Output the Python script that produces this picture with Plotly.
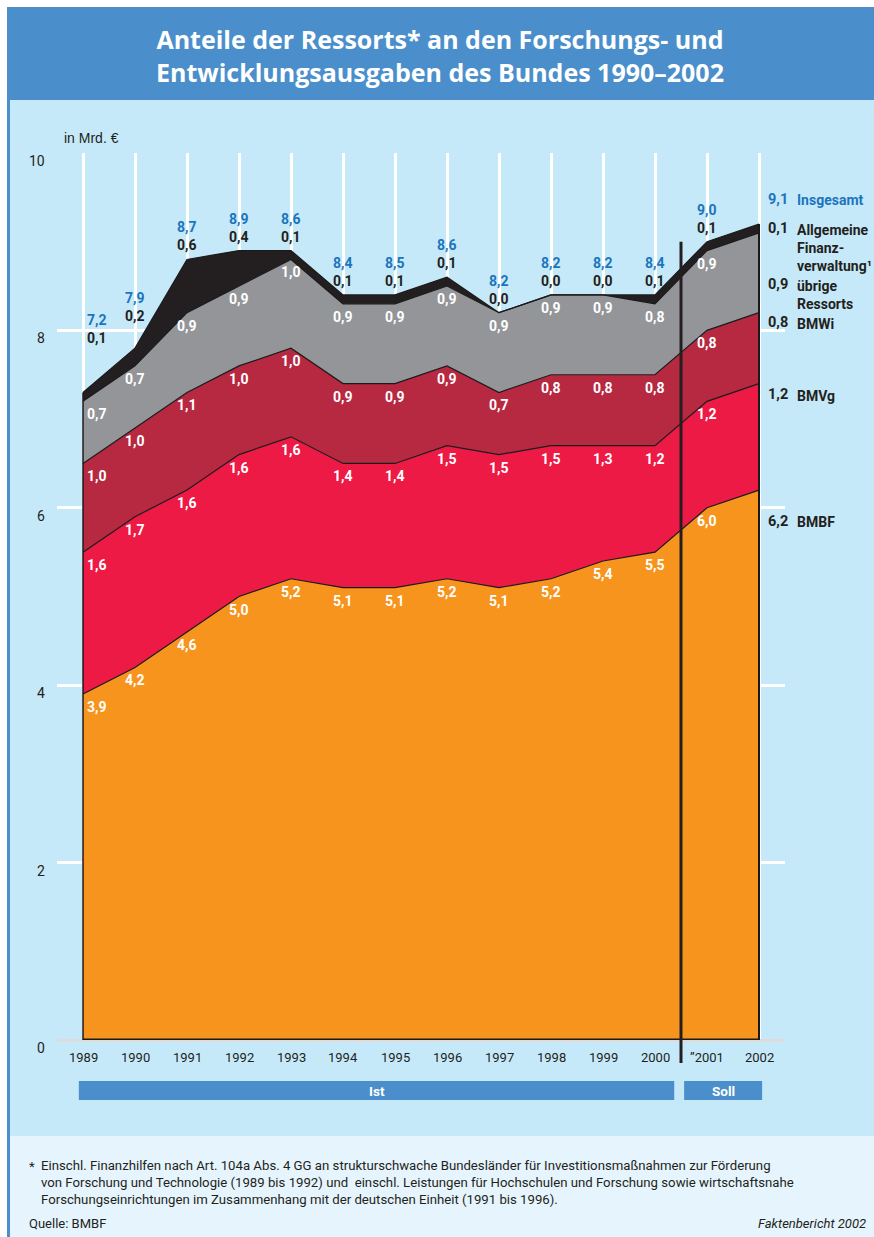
import plotly.graph_objects as go

# ---------------- data ----------------
years = [1989, 1990, 1991, 1992, 1993, 1994, 1995, 1996, 1997, 1998, 1999, 2000, 2001, 2002]
year_labels = ["1989", "1990", "1991", "1992", "1993", "1994", "1995", "1996",
               "1997", "1998", "1999", "2000", "\u201d2001", "2002"]
bmbf = [3.9, 4.2, 4.6, 5.0, 5.2, 5.1, 5.1, 5.2, 5.1, 5.2, 5.4, 5.5, 6.0, 6.2]
bmvg = [1.6, 1.7, 1.6, 1.6, 1.6, 1.4, 1.4, 1.5, 1.5, 1.5, 1.3, 1.2, 1.2, 1.2]
bmwi = [1.0, 1.0, 1.1, 1.0, 1.0, 0.9, 0.9, 0.9, 0.7, 0.8, 0.8, 0.8, 0.8, 0.8]
uebrige = [0.7, 0.7, 0.9, 0.9, 1.0, 0.9, 0.9, 0.9, 0.9, 0.9, 0.9, 0.8, 0.9, 0.9]
allgemeine = [0.1, 0.2, 0.6, 0.4, 0.1, 0.1, 0.1, 0.1, 0.0, 0.0, 0.0, 0.1, 0.1, 0.1]
insgesamt = [7.2, 7.9, 8.7, 8.9, 8.6, 8.4, 8.5, 8.6, 8.2, 8.2, 8.2, 8.4, 9.0, 9.1]
y_ticks = [0, 2, 4, 6, 8, 10]
series_names = ["BMBF", "BMVg", "BMWi", "übrige<br>Ressorts",
                "Allgemeine<br>Finanz-<br>verwaltung\u00b9"]
ist_label, soll_label = "Ist", "Soll"
first_soll_year = 2001

# ---------------- styles ----------------
W, H = 874, 1237
COND = "Roboto, Liberation Sans, sans-serif"
colors = ["#f7941d", "#ed1a46", "#b72841", "#939598", "#231f20"]
BLUE_TXT = "#1b75bc"
DARK = "#231f20"
PANEL = "#c6e9f9"
BAND = "#4a8fcb"
FOOT = "#e6f5fd"

XPX = (57, 785)      # plot area in pixels
YPX = (153, 1040)
YR = (0, 10)
# extra upward lift (px) of the labels above the stack, per year (layout only)
top_label_lift = [40, 18, 0, 0, 0, 0, 0, 0, 0, 0, 0, 0, 0, 0]


def px_x(p):
    return p / W


def px_y(p):
    return 1 - p / H


def val_to_paper_y(v):
    d0, d1 = px_y(YPX[1]), px_y(YPX[0])
    return d0 + (v - YR[0]) / (YR[1] - YR[0]) * (d1 - d0)


series = [bmbf, bmvg, bmwi, uebrige, allgemeine]
cum = []
run = [0.0] * len(years)
for s in series:
    run = [a + b for a, b in zip(run, s)]
    cum.append(run)
stack_top = cum[-1]


def fmt(v):
    return f"{v:.1f}".replace(".", ",")


fig = go.Figure()
for name, s, c in zip(series_names, series, colors):
    fig.add_trace(go.Scatter(
        x=years, y=s, stackgroup="one", mode="lines", name=name.replace("<br>", " "),
        line=dict(color="#1a1a1a", width=1.2), fillcolor=c, hoverinfo="skip",
        showlegend=False))

shapes = []
# background panels
shapes.append(dict(type="rect", xref="paper", yref="paper", x0=px_x(7), x1=1,
                   y0=px_y(100), y1=px_y(7), fillcolor=BAND, line_width=0, layer="below"))
shapes.append(dict(type="rect", xref="paper", yref="paper", x0=px_x(7), x1=1,
                   y0=px_y(1136), y1=px_y(100), fillcolor=PANEL, line_width=0, layer="below"))
shapes.append(dict(type="rect", xref="paper", yref="paper", x0=px_x(7), x1=1,
                   y0=0, y1=px_y(1136), fillcolor=FOOT, line_width=0, layer="below"))
shapes.append(dict(type="line", xref="paper", yref="paper", x0=px_x(8.5), x1=px_x(8.5),
                   y0=0, y1=px_y(7), line=dict(color=BAND, width=3)))
# outline of the stacked area
shapes.append(dict(type="line", xref="x", yref="y", x0=years[0], x1=years[0],
                   y0=0, y1=stack_top[0], line=dict(color="#1a1a1a", width=1.5)))
shapes.append(dict(type="line", xref="x", yref="y", x0=years[-1], x1=years[-1],
                   y0=0, y1=stack_top[-1], line=dict(color="#1a1a1a", width=2)))
shapes.append(dict(type="line", xref="x", yref="y", x0=years[0], x1=years[-1],
                   y0=0, y1=0, line=dict(color="#1a1a1a", width=3)))
# separator Ist / Soll
sep_x = first_soll_year - 0.5
shapes.append(dict(type="line", xref="x", yref="paper", x0=sep_x, x1=sep_x,
                   y0=px_y(1063), y1=val_to_paper_y(stack_top[-2]),
                   line=dict(color=DARK, width=3)))
# Ist / Soll bars
shapes.append(dict(type="rect", xref="x", yref="paper", x0=years[0] - 0.08, x1=sep_x - 0.13,
                   y0=px_y(1100), y1=px_y(1081), fillcolor=BAND, line_width=0))
shapes.append(dict(type="rect", xref="x", yref="paper", x0=sep_x + 0.06, x1=years[-1] + 0.06,
                   y0=px_y(1100), y1=px_y(1081), fillcolor=BAND, line_width=0))

ann = []
# title
ann.append(dict(xref="paper", yref="paper", x=px_x(440), y=px_y(55), xanchor="center",
                yanchor="middle", showarrow=False,
                text="<b>Anteile der Ressorts* an den Forschungs- und<br>"
                     "Entwicklungsausgaben des Bundes 1990\u20132002</b>",
                font=dict(family="Open Sans, sans-serif", size=25, color="white")))
ann.append(dict(xref="paper", yref="paper", x=px_x(62), y=px_y(138), xanchor="left",
                yanchor="middle", showarrow=False, text="in Mrd. \u20ac",
                font=dict(family="Liberation Sans, Arial, sans-serif", size=14, color=DARK)))
# y tick labels
for t in y_ticks:
    ann.append(dict(xref="paper", yref="y", x=px_x(47), y=t, xanchor="right",
                    yanchor="middle", yshift=-8, showarrow=False, text=str(t),
                    font=dict(family=COND, size=14, color=DARK)))
# x tick labels
for yv, lab in zip(years, year_labels):
    ann.append(dict(xref="x", yref="y", x=yv, y=0, xanchor="center", yanchor="top",
                    yshift=-8, showarrow=False, text=lab,
                    font=dict(family=COND, size=13, color=DARK)))
# Ist / Soll labels
ann.append(dict(xref="x", yref="paper", x=(years[0] - 0.08 + sep_x - 0.13) / 2, y=px_y(1090.5),
                xanchor="center", yanchor="middle", showarrow=False, text=f"<b>{ist_label}</b>",
                font=dict(family=COND, size=13.5, color="white")))
ann.append(dict(xref="x", yref="paper", x=(sep_x + 0.06 + years[-1] + 0.06) / 2, y=px_y(1090.5),
                xanchor="center", yanchor="middle", showarrow=False, text=f"<b>{soll_label}</b>",
                font=dict(family=COND, size=13.5, color="white")))

# in-area value labels
for si, s in enumerate(series[:-1]):
    for j in range(len(years) - 1):
        ann.append(dict(xref="x", yref="y", x=years[j], y=cum[si][j],
                        xanchor="left" if j == 0 else "center", xshift=2 if j == 0 else 0,
                        yanchor="top", yshift=-3, showarrow=False, text=f"<b>{fmt(s[j])}</b>",
                        font=dict(family=COND, size=14, color="white")))
# values above the stack
for j in range(len(years) - 1):
    ann.append(dict(xref="x", yref="y", x=years[j], y=stack_top[j],
                    xanchor="left" if j == 0 else "center", xshift=2 if j == 0 else 0,
                    yanchor="bottom", yshift=4 + top_label_lift[j], showarrow=False,
                    text=f"<b>{fmt(allgemeine[j])}</b>",
                    font=dict(family=COND, size=14, color=DARK)))
    ann.append(dict(xref="x", yref="y", x=years[j], y=stack_top[j],
                    xanchor="left" if j == 0 else "center", xshift=2 if j == 0 else 0,
                    yanchor="bottom", yshift=22 + top_label_lift[j], showarrow=False,
                    text=f"<b>{fmt(insgesamt[j])}</b>",
                    font=dict(family=COND, size=14, color=BLUE_TXT)))

# right-hand legend labels (value + name), vertical pixel offsets relative to band top
right_shift = [-31, -11, -10, -52, -5]
for si, (name, s) in enumerate(zip(series_names, series)):
    top = cum[si][-1]
    ann.append(dict(xref="x", yref="y", x=years[-1], y=top, xanchor="left", xshift=7,
                    yanchor="middle", yshift=right_shift[si], showarrow=False,
                    text=f"<b>{fmt(s[-1])}</b>",
                    font=dict(family=COND, size=14.5, color=DARK)))
    ann.append(dict(xref="x", yref="y", x=years[-1], y=top, xanchor="left", xshift=36,
                    yanchor="top", yshift=right_shift[si] + 9, showarrow=False, align="left",
                    text=f"<b>{name}</b>",
                    font=dict(family=COND, size=14, color=DARK)))
ann.append(dict(xref="x", yref="y", x=years[-1], y=stack_top[-1], xanchor="left", xshift=7,
                yanchor="middle", yshift=24, showarrow=False, text=f"<b>{fmt(insgesamt[-1])}</b>",
                font=dict(family=COND, size=14.5, color=BLUE_TXT)))
ann.append(dict(xref="x", yref="y", x=years[-1], y=stack_top[-1], xanchor="left", xshift=36,
                yanchor="middle", yshift=24, showarrow=False, text="<b>Insgesamt</b>",
                font=dict(family=COND, size=14, color=BLUE_TXT)))

# footnote
ann.append(dict(xref="paper", yref="paper", x=px_x(27), y=px_y(1157), xanchor="left",
                yanchor="top", showarrow=False, text="*",
                font=dict(family=COND, size=13.2, color=DARK)))
ann.append(dict(xref="paper", yref="paper", x=px_x(39), y=px_y(1156), xanchor="left",
                yanchor="top", showarrow=False, align="left",
                text="Einschl. Finanzhilfen nach Art. 104a Abs. 4 GG an strukturschwache Bundesländer "
                     "für Investitionsmaßnahmen zur Förderung<br>"
                     "von Forschung und Technologie (1989 bis 1992) und  einschl. Leistungen für "
                     "Hochschulen und Forschung sowie wirtschaftsnahe<br>"
                     "Forschungseinrichtungen im Zusammenhang mit der deutschen Einheit (1991 bis 1996).",
                font=dict(family=COND, size=13.2, color=DARK)))
ann.append(dict(xref="paper", yref="paper", x=px_x(27), y=px_y(1223), xanchor="left",
                yanchor="middle", showarrow=False, text="Quelle: BMBF",
                font=dict(family=COND, size=13, color=DARK)))
ann.append(dict(xref="paper", yref="paper", x=px_x(868), y=px_y(1223), xanchor="right",
                yanchor="middle", showarrow=False, text="<i>Faktenbericht 2002</i>",
                font=dict(family=COND, size=13, color=DARK)))

fig.update_layout(
    width=W, height=H, autosize=False,
    margin=dict(l=0, r=0, t=0, b=0, pad=0),
    paper_bgcolor="white", plot_bgcolor="rgba(0,0,0,0)",
    shapes=shapes, annotations=ann, showlegend=False,
    xaxis=dict(domain=[px_x(XPX[0]), px_x(XPX[1])],
               range=[years[0] - 0.5, years[-1] + 0.5],
               tickvals=years, showticklabels=False, ticks="",
               showgrid=True, gridcolor="white", gridwidth=2.5, zeroline=False,
               showline=False, fixedrange=True),
    yaxis=dict(domain=[px_y(YPX[1]), px_y(YPX[0])], range=list(YR),
               tickvals=y_ticks, showticklabels=False, ticks="",
               showgrid=True, gridcolor="white", gridwidth=2.5,
               zeroline=True, zerolinecolor="#dcdcdc", zerolinewidth=3,
               showline=False, fixedrange=True),
)

fig.write_html("out.html")
